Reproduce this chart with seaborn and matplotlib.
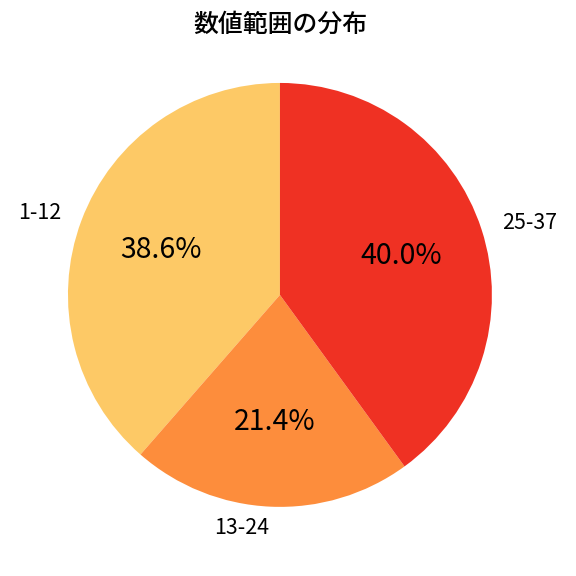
import matplotlib
matplotlib.use("Agg")
import matplotlib.pyplot as plt
import seaborn as sns

# Datos del gráfico
categorias = ["1-12", "13-24", "25-37"]
conteos = [27, 15, 28]
colores = ["#fdc966", "#fd8d3c", "#ef3123"]

sns.set_theme(style="white")
plt.rcParams["font.family"] = ["Noto Sans CJK JP", "DejaVu Sans"]
plt.rcParams["text.color"] = "black"

fig = plt.figure(figsize=(4.5, 4.5), dpi=128)
ax = fig.add_axes([0.026, 0.028, 0.92, 0.92])

wedges, textos, autotextos = ax.pie(
    conteos,
    labels=categorias,
    colors=colores,
    autopct="%1.1f%%",
    startangle=90,
    labeldistance=1.1,
    pctdistance=0.6,
    wedgeprops={"linewidth": 0},
    textprops={"fontsize": 12, "color": "black"},
)
for t in autotextos:
    t.set_fontsize(16)

ax.set_xlim(-1.25, 1.25)
ax.set_ylim(-1.25, 1.25)
ax.set_aspect("equal")

fig.text(0.486, 1 - 24.5 / 576, "数値範囲の分布", fontsize=14,
         fontweight="medium", ha="center", va="center", color="black")

plt.savefig("out.png", dpi=128)
plt.close()
